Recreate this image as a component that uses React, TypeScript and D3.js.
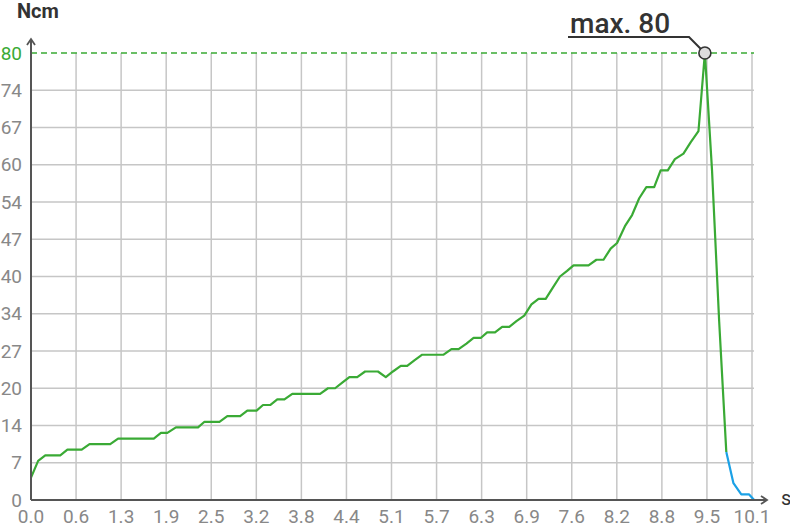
import React from "react";
import * as d3 from "d3";

const tightenTime = [0, 0.1, 0.2, 0.41, 0.51, 0.71, 0.82, 1.11, 1.22, 1.72, 1.82, 1.91, 2.03, 2.34, 2.43, 2.64, 2.75, 2.93, 3.03, 3.16, 3.25, 3.35, 3.45, 3.55, 3.66, 4.05, 4.16, 4.26, 4.36, 4.46, 4.57, 4.68, 4.86, 4.97, 5.07, 5.18, 5.27, 5.37, 5.48, 5.78, 5.89, 5.99, 6.1, 6.2, 6.3, 6.39, 6.5, 6.6, 6.7, 6.8, 6.91, 7.01, 7.11, 7.21, 7.31, 7.41, 7.51, 7.6, 7.81, 7.92, 8.02, 8.12, 8.21, 8.32, 8.42, 8.52, 8.62, 8.73, 8.82, 8.92, 9.02, 9.14, 9.24, 9.35, 9.44, 9.54, 9.64, 9.74];
const tightenTorque = [4, 7, 8, 8, 9, 9, 10, 10, 11, 11, 12, 12, 13, 13, 14, 14, 15, 15, 16, 16, 17, 17, 18, 18, 19, 19, 20, 20, 21, 22, 22, 23, 23, 22, 23, 24, 24, 25, 26, 26, 27, 27, 28, 29, 29, 30, 30, 31, 31, 32, 33, 35, 36, 36, 38, 40, 41, 42, 42, 43, 43, 45, 46, 49, 51, 54, 56, 56, 59, 59, 61, 62, 64, 66, 80, 59, 32, 8.6];
const releaseTime = [9.74, 9.84, 9.95, 10.06, 10.13];
const releaseTorque = [8.6, 3, 1, 1, 0];

const xTickLabels = ["0.0", "0.6", "1.3", "1.9", "2.5", "3.2", "3.8", "4.4", "5.1", "5.7", "6.3", "6.9", "7.6", "8.2", "8.8", "9.5", "10.1"];
const yTickLabels = ["0", "7", "14", "20", "27", "34", "40", "47", "54", "60", "67", "74", "80"];
const xMax = 10.1;
const yMax = 80;

const GREEN = "#3aaa35";
const BLUE = "#1ba1e6";
const GRID = "#c6c6c6";
const AXIS = "#555555";
const LABEL = "#888888";
const DARK = "#333333";
const FONT = "Roboto, sans-serif";

export default function App() {
  const W = 790, H = 526;
  const x = d3.scaleLinear().domain([0, xMax]).range([31, 752]);
  const y = d3.scaleLinear().domain([0, yMax]).range([500, 53]);
  const xTicks = xTickLabels.map((_, i) => (i * xMax) / (xTickLabels.length - 1));
  const yTicks = yTickLabels.map((_, i) => (i * yMax) / (yTickLabels.length - 1));

  const line = d3.line<[number, number]>().x((d) => x(d[0])).y((d) => y(d[1]));
  const green = line(tightenTime.map((t, i) => [t, tightenTorque[i]]));
  const blue = line(releaseTime.map((t, i) => [t, releaseTorque[i]]));

  const peakIdx = d3.maxIndex(tightenTorque);
  const px = x(tightenTime[peakIdx]);
  const py = y(tightenTorque[peakIdx]);

  const x0 = x(0), y0 = y(0);

  return (
    <svg width={W} height={H} style={{ position: "absolute", left: 0, top: 0, background: "#fff" }} fontFamily={FONT}>
      {/* grid */}
      {xTicks.slice(1).map((t, i) => (
        <line key={"gx" + i} x1={x(t)} x2={x(t)} y1={y(yMax)} y2={y0} stroke={GRID} strokeWidth={1.5} />
      ))}
      {yTicks.slice(1, -1).map((t, i) => (
        <line key={"gy" + i} x1={x0} x2={x(xMax) + 2} y1={y(t)} y2={y(t)} stroke={GRID} strokeWidth={1.5} />
      ))}
      {/* max dashed line */}
      <line x1={x0} x2={x(xMax) + 2} y1={y(yMax)} y2={y(yMax)} stroke={GREEN} strokeWidth={1.5} strokeDasharray="6 4" />

      {/* data */}
      <path d={green || ""} fill="none" stroke={GREEN} strokeWidth={2.2} strokeLinejoin="round" />
      <path d={blue || ""} fill="none" stroke={BLUE} strokeWidth={2.2} strokeLinejoin="round" />

      {/* axes */}
      <line x1={x0} x2={x0} y1={y0} y2={39} stroke={AXIS} strokeWidth={2} />
      <path d={`M${x0 - 4},${45} L${x0},${39} L${x0 + 4},${45}`} fill="none" stroke={AXIS} strokeWidth={1.8} />
      <line x1={x0} x2={767} y1={y0} y2={y0} stroke={AXIS} strokeWidth={2} />
      <path d={`M${761},${y0 - 4} L${767},${y0} L${761},${y0 + 4}`} fill="none" stroke={AXIS} strokeWidth={1.8} />

      {/* tick labels */}
      {xTicks.map((t, i) => (
        <text key={"tx" + i} x={x(t)} y={523} textAnchor="middle" fontSize={19} fill={LABEL}>
          {xTickLabels[i]}
        </text>
      ))}
      {yTicks.map((t, i) => (
        <text key={"ty" + i} x={22} y={y(t) + 6.5} textAnchor="end" fontSize={19}
          fill={i === yTicks.length - 1 ? GREEN : LABEL}>
          {yTickLabels[i]}
        </text>
      ))}

      {/* axis titles */}
      <text x={17} y={18} fontSize={20} fontWeight={700} fill={DARK}>Ncm</text>
      <text x={781} y={505} fontSize={20} fill={DARK}>s</text>

      {/* max annotation */}
      <path d={`M568,37 L689,37 L${px - 4},${py - 4}`} fill="none" stroke={DARK} strokeWidth={2} />
      <circle cx={px} cy={py} r={6} fill="#dddddd" stroke={DARK} strokeWidth={1.6} />
      <text x={570} y={33} fontSize={28} fontWeight={500} fill={DARK}>max. {tightenTorque[peakIdx]}</text>
    </svg>
  );
}
